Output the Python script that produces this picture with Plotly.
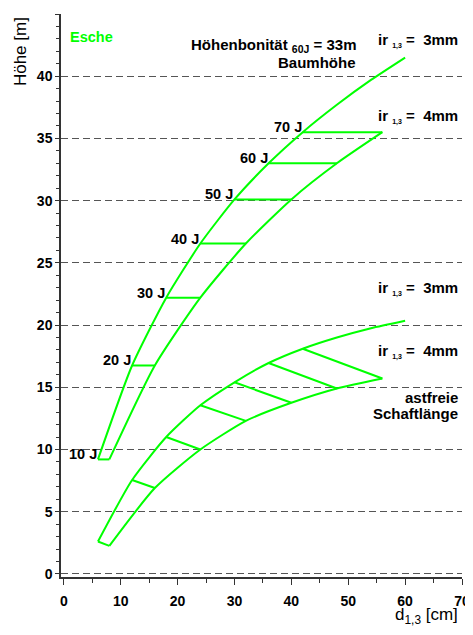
import plotly.graph_objects as go

# ---- data ----
ages = [10, 20, 30, 40, 50, 60, 70, 80, 90, 100]
age_labels = ["10 J", "20 J", "30 J", "40 J", "50 J", "60 J", "70 J"]

# diameter d1,3 [cm] for ir1,3 = 3 mm and 4 mm
d_3mm = [6, 12, 18, 24, 30, 36, 42, 48, 54, 60]
d_4mm = [8, 16, 24, 32, 40, 48, 56]

# Baumhöhe [m]
h_baum_3mm = [9.2, 16.75, 22.2, 26.55, 30.1, 33.0, 35.5, 37.7, 39.7, 41.5]
h_baum_4mm = [9.2, 16.75, 22.2, 26.55, 30.1, 33.0, 35.5]

# astfreie Schaftlänge [m]
h_ast_3mm = [2.6, 7.55, 11.0, 13.55, 15.4, 16.95, 18.1, 19.0, 19.75, 20.35]
h_ast_4mm = [2.25, 6.9, 10.0, 12.3, 13.75, 14.9, 15.7]

x_ticks = [0, 10, 20, 30, 40, 50, 60, 70]
y_ticks = [0, 5, 10, 15, 20, 25, 30, 35, 40, 45]

GREEN = "#00ff00"
FONT = "Arial, Liberation Sans, sans-serif"

fig = go.Figure()

curve_line = dict(color=GREEN, width=2, shape="spline", smoothing=0.6)
for xs, ys in [(d_3mm, h_baum_3mm), (d_4mm, h_baum_4mm),
               (d_3mm, h_ast_3mm), (d_4mm, h_ast_4mm)]:
    fig.add_trace(go.Scatter(x=xs, y=ys, mode="lines", line=curve_line,
                             hoverinfo="skip", showlegend=False))

# rungs connecting equal ages
for h3, h4 in [(h_baum_3mm, h_baum_4mm), (h_ast_3mm, h_ast_4mm)]:
    rx, ry = [], []
    for i in range(len(d_4mm)):
        rx += [d_3mm[i], d_4mm[i], None]
        ry += [h3[i], h4[i], None]
    fig.add_trace(go.Scatter(x=rx, y=ry, mode="lines",
                             line=dict(color=GREEN, width=2),
                             hoverinfo="skip", showlegend=False))

annotations = []
# age labels
for i, lab in enumerate(age_labels):
    annotations.append(dict(x=d_3mm[i], y=h_baum_3mm[i], text=lab, xref="x", yref="y",
                            xanchor="right", yanchor="middle", yshift=5, xshift=1,
                            showarrow=False,
                            font=dict(family=FONT, size=14.5, color="black", weight="bold")))

sub = "<sub><span style='font-size:7px'>1,3</span></sub>"
txt = [
    (0.8, 43.13, "left", "Esche", GREEN, 14.5),
    (51.7, 42.45, "right", "Höhenbonität <sub>60J</sub> = 33m", "black", 15),
    (51.7, 41.1, "right", "Baumhöhe", "black", 15),
    (69.7, 42.85, "right", "ir " + sub + " =  3mm", "black", 15),
    (69.7, 36.8, "right", "ir " + sub + " =  4mm", "black", 15),
    (69.7, 22.9, "right", "ir " + sub + " =  3mm", "black", 15),
    (69.7, 17.87, "right", "ir " + sub + " =  4mm", "black", 15),
    (69.7, 14.15, "right", "astfreie", "black", 15),
    (69.7, 12.9, "right", "Schaftlänge", "black", 15),
]
for x, y, xa, t, c, s in txt:
    annotations.append(dict(x=x, y=y, text=t, xref="x", yref="y", xanchor=xa,
                            yanchor="middle", showarrow=False,
                            font=dict(family=FONT, size=s, color=c, weight="bold")))

# axis titles
annotations.append(dict(x=-0.102, y=0.9325, xref="paper", yref="paper", text="Höhe [m]",
                        textangle=-90, showarrow=False, xanchor="center", yanchor="middle",
                        font=dict(family=FONT, size=17, color="black")))
annotations.append(dict(x=0.995, y=-0.07, xref="paper", yref="paper",
                        text="d<sub>1,3</sub> [cm]", showarrow=False,
                        xanchor="right", yanchor="middle",
                        font=dict(family=FONT, size=17, color="black")))

# the page body adds an 8px offset, so the figure is 8px smaller and margins shifted
fig.update_layout(
    width=465, height=627,
    margin=dict(l=53, r=11, t=6, b=58, autoexpand=False),
    plot_bgcolor="white", paper_bgcolor="white",
    annotations=annotations,
    showlegend=False,
    xaxis=dict(range=[-0.5, 70], tickvals=x_ticks, ticks="outside", ticklen=6,
               tickwidth=1, tickcolor="#333", showline=True, linecolor="#333",
               linewidth=1.5, showgrid=False, zeroline=False, automargin=False,
               ticklabelstandoff=4,
               minor=dict(dtick=5, ticks="outside", ticklen=4, tickcolor="#333", showgrid=False),
               tickfont=dict(family=FONT, size=14, color="black", weight="bold")),
    yaxis=dict(range=[-0.25, 45], tickvals=y_ticks, ticks="outside", ticklen=4,
               tickwidth=1, tickcolor="#333", showline=True, linecolor="#333",
               linewidth=1.5, showgrid=True, gridcolor="#555", gridwidth=1,
               griddash="7px,4px", zeroline=False, automargin=False,
               minor=dict(dtick=1, ticks="outside", ticklen=3, tickcolor="#333", showgrid=False),
               tickfont=dict(family=FONT, size=14, color="black", weight="bold")),
)

fig.write_html("out.html")
